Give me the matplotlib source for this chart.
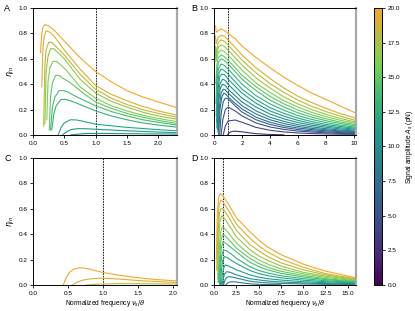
import numpy as np
import matplotlib
matplotlib.use('Agg')
import matplotlib.pyplot as plt
from matplotlib.colors import LinearSegmentedColormap, Normalize
from matplotlib.cm import ScalarMappable

plt.rcParams['font.family'] = ['Liberation Sans', 'DejaVu Sans']
plt.rcParams['mathtext.fontset'] = 'dejavusans'

# Panel A: amplitudes 20 -> 10 pN, (x, y) points
amps_a = [20, 19, 18, 17, 16, 15, 14, 13, 12, 11, 10]
x_a = [
    [0.12, 0.14, 0.16, 0.19, 0.25, 0.35, 0.5, 0.75, 1.0, 1.25, 1.5, 1.75, 2.0, 2.3],
    [0.14, 0.16, 0.18, 0.21, 0.27, 0.35, 0.5, 0.75, 1.0, 1.25, 1.5, 1.75, 2.0, 2.3],
    [0.17, 0.19, 0.21, 0.25, 0.3, 0.4, 0.5, 0.75, 1.0, 1.25, 1.5, 1.75, 2.0, 2.3],
    [0.19, 0.21, 0.24, 0.28, 0.33, 0.42, 0.5, 0.75, 1.0, 1.25, 1.5, 1.75, 2.0, 2.3],
    [0.22, 0.24, 0.27, 0.32, 0.37, 0.45, 0.55, 0.75, 1.0, 1.25, 1.5, 1.75, 2.0, 2.3],
    [0.26, 0.28, 0.31, 0.36, 0.41, 0.5, 0.6, 0.8, 1.0, 1.25, 1.5, 1.75, 2.0, 2.3],
    [0.28, 0.31, 0.35, 0.42, 0.48, 0.55, 0.7, 1.0, 1.25, 1.5, 1.75, 2.0, 2.3],
    [0.30, 0.33, 0.37, 0.45, 0.52, 0.6, 0.8, 1.0, 1.25, 1.5, 1.75, 2.0, 2.3],
    [0.40, 0.45, 0.5, 0.6, 0.7, 0.8, 1.0, 1.5, 2.0, 2.3],
    [0.47, 0.55, 0.62, 0.72, 0.85, 1.0, 1.5, 2.0, 2.3],
    [0.6, 0.8, 1.0, 1.5, 2.3],
]
y_a = [
    [0.65, 0.80, 0.85, 0.87, 0.86, 0.82, 0.74, 0.61, 0.50, 0.42, 0.35, 0.30, 0.26, 0.215],
    [0.38, 0.70, 0.78, 0.82, 0.81, 0.77, 0.67, 0.52, 0.39, 0.32, 0.27, 0.225, 0.19, 0.155],
    [0.07, 0.55, 0.67, 0.73, 0.73, 0.68, 0.63, 0.48, 0.36, 0.29, 0.24, 0.20, 0.17, 0.14],
    [0.09, 0.50, 0.62, 0.68, 0.68, 0.64, 0.60, 0.44, 0.33, 0.265, 0.22, 0.18, 0.15, 0.125],
    [0.12, 0.42, 0.53, 0.58, 0.58, 0.55, 0.50, 0.38, 0.29, 0.23, 0.19, 0.155, 0.13, 0.105],
    [0.04, 0.30, 0.41, 0.47, 0.47, 0.44, 0.41, 0.33, 0.26, 0.21, 0.17, 0.14, 0.115, 0.09],
    [0.04, 0.22, 0.30, 0.35, 0.35, 0.34, 0.30, 0.23, 0.185, 0.15, 0.12, 0.10, 0.078],
    [0.04, 0.16, 0.23, 0.28, 0.28, 0.27, 0.23, 0.19, 0.15, 0.12, 0.095, 0.078, 0.062],
    [0.0, 0.06, 0.095, 0.12, 0.118, 0.108, 0.085, 0.06, 0.042, 0.033],
    [0.0, 0.03, 0.044, 0.05, 0.049, 0.045, 0.033, 0.023, 0.018],
    [0.0, 0.01, 0.012, 0.01, 0.007],
]

# Panel B: amplitudes 20 -> 3 pN
amps_b = [20, 19, 18, 17, 16, 15, 14, 13, 12, 11, 10, 9, 8, 7, 6, 5, 4, 3]
tail_b = [1, 1.5, 2, 3, 4, 5, 6, 7, 8, 9, 10.2]
head_x_b = [
    [0.1, 0.14, 0.2, 0.3, 0.5, 0.7],
    [0.1, 0.14, 0.2, 0.3, 0.5, 0.7],
    [0.1, 0.14, 0.2, 0.3, 0.5, 0.7],
    [0.1, 0.14, 0.2, 0.3, 0.5, 0.7],
    [0.1, 0.13, 0.2, 0.3, 0.5, 0.7],
    [0.12, 0.2, 0.3, 0.5, 0.7],
    [0.13, 0.2, 0.3, 0.5, 0.7],
    [0.15, 0.22, 0.3, 0.5, 0.7],
    [0.17, 0.25, 0.35, 0.5, 0.7],
    [0.2, 0.28, 0.4, 0.55, 0.75],
    [0.22, 0.3, 0.4, 0.6, 0.8],
    [0.25, 0.33, 0.45, 0.6, 0.8],
    [0.28, 0.37, 0.5, 0.65, 0.8],
    [0.32, 0.42, 0.55, 0.7, 0.85],
    [0.4, 0.5, 0.65, 0.8],
    [0.5, 0.62, 0.8],
    [0.65, 0.8],
    [0.95, 1.1, 1.3],
]
head_y_b = [
    [0.86, 0.82, 0.81, 0.825, 0.835, 0.825],
    [0.78, 0.72, 0.74, 0.77, 0.785, 0.78],
    [0.70, 0.62, 0.68, 0.73, 0.75, 0.74],
    [0.66, 0.58, 0.64, 0.69, 0.71, 0.70],
    [0.69, 0.59, 0.61, 0.65, 0.67, 0.66],
    [0.40, 0.56, 0.61, 0.63, 0.62],
    [0.25, 0.50, 0.57, 0.60, 0.59],
    [0.15, 0.45, 0.52, 0.56, 0.55],
    [0.10, 0.40, 0.49, 0.52, 0.51],
    [0.06, 0.36, 0.46, 0.48, 0.475],
    [0.05, 0.30, 0.40, 0.44, 0.43],
    [0.04, 0.26, 0.37, 0.40, 0.39],
    [0.02, 0.22, 0.33, 0.36, 0.355],
    [0.0, 0.20, 0.30, 0.33, 0.32],
    [0.0, 0.17, 0.26, 0.29],
    [0.0, 0.12, 0.20],
    [0.0, 0.07],
    [0.0, 0.02, 0.028],
]
tail_y_b = [
    [0.80, 0.76, 0.70, 0.61, 0.53, 0.455, 0.39, 0.33, 0.28, 0.23, 0.17],
    [0.75, 0.69, 0.63, 0.53, 0.445, 0.37, 0.305, 0.255, 0.21, 0.17, 0.13],
    [0.71, 0.65, 0.59, 0.49, 0.405, 0.335, 0.275, 0.225, 0.185, 0.15, 0.112],
    [0.67, 0.61, 0.55, 0.45, 0.37, 0.30, 0.245, 0.20, 0.163, 0.132, 0.10],
    [0.63, 0.57, 0.51, 0.41, 0.335, 0.27, 0.22, 0.178, 0.145, 0.117, 0.09],
    [0.59, 0.53, 0.47, 0.38, 0.305, 0.245, 0.197, 0.158, 0.128, 0.103, 0.08],
    [0.56, 0.50, 0.44, 0.35, 0.275, 0.22, 0.175, 0.14, 0.113, 0.091, 0.07],
    [0.52, 0.46, 0.40, 0.31, 0.245, 0.195, 0.153, 0.122, 0.098, 0.078, 0.06],
    [0.48, 0.42, 0.36, 0.28, 0.215, 0.17, 0.133, 0.105, 0.084, 0.067, 0.052],
    [0.44, 0.385, 0.33, 0.25, 0.19, 0.148, 0.115, 0.09, 0.072, 0.057, 0.045],
    [0.40, 0.345, 0.29, 0.22, 0.165, 0.127, 0.098, 0.077, 0.061, 0.048, 0.038],
    [0.36, 0.31, 0.26, 0.19, 0.14, 0.107, 0.082, 0.064, 0.05, 0.039, 0.03],
    [0.33, 0.28, 0.23, 0.165, 0.12, 0.09, 0.068, 0.052, 0.041, 0.032, 0.025],
    [0.30, 0.25, 0.205, 0.14, 0.10, 0.073, 0.055, 0.042, 0.033, 0.026, 0.02],
    [0.285, 0.23, 0.18, 0.12, 0.083, 0.059, 0.043, 0.032, 0.025, 0.019, 0.015],
    [0.22, 0.19, 0.15, 0.095, 0.063, 0.044, 0.031, 0.023, 0.017, 0.013, 0.01],
    [0.11, 0.118, 0.10, 0.06, 0.037, 0.024, 0.016, 0.011, 0.008, 0.006, 0.005],
    [],
]
tail_b3_x = [1.5, 2, 2.5, 3, 4, 5]
tail_b3_y = [0.03, 0.025, 0.017, 0.01, 0.004, 0.001]

# Panel C: only the three largest amplitudes give any output
amps_c = [20, 19, 18]
x_c = [
    [0.43, 0.47, 0.52, 0.58, 0.65, 0.72, 0.8, 1.0, 1.25, 1.5, 1.75, 2.05],
    [0.56, 0.62, 0.7, 0.8, 0.95, 1.1, 1.3, 1.5, 1.75, 2.05],
    [0.75, 0.9, 1.2, 1.6, 2.05],
]
y_c = [
    [0.0, 0.055, 0.1, 0.125, 0.135, 0.134, 0.125, 0.098, 0.075, 0.057, 0.043, 0.032],
    [0.0, 0.02, 0.037, 0.048, 0.053, 0.051, 0.044, 0.035, 0.027, 0.019],
    [0.0, 0.006, 0.011, 0.01, 0.007],
]

# Panel D: amplitudes 20 -> 8 pN
amps_d = [20, 19, 18, 17, 16, 15, 14, 13, 12, 11, 10, 9, 8]
x_d = [
    [0.25, 0.35, 0.5, 0.7, 1.0, 1.5, 2.5, 4, 5, 6, 7.5, 10, 12.5, 16],
    [0.3, 0.4, 0.55, 0.75, 1.0, 1.5, 2.5, 4, 5, 6, 7.5, 10, 12.5, 16],
    [0.33, 0.45, 0.6, 0.8, 1.0, 1.5, 2.5, 4, 5, 6, 7.5, 10, 12.5, 16],
    [0.4, 0.5, 0.65, 0.85, 1.0, 1.5, 2.5, 4, 5, 6, 7.5, 10, 12.5, 16],
    [0.45, 0.55, 0.7, 0.9, 1.1, 1.5, 2.5, 4, 5, 6, 7.5, 10, 12.5, 16],
    [0.5, 0.6, 0.75, 0.95, 1.2, 1.5, 2.5, 4, 5, 6, 7.5, 10, 12.5, 16],
    [0.55, 0.65, 0.8, 1.0, 1.3, 2.0, 2.5, 4, 5, 6, 7.5, 10, 12.5, 16],
    [0.6, 0.72, 0.85, 1.05, 1.4, 2.0, 2.5, 4, 5, 6, 7.5, 10, 12.5, 16],
    [0.7, 0.8, 0.95, 1.15, 1.5, 2.0, 2.5, 4, 5, 6, 7.5, 10, 12.5, 16],
    [0.8, 0.9, 1.05, 1.25, 1.6, 2.5, 4, 5, 6, 7.5, 10, 12.5, 16],
    [0.9, 1.0, 1.15, 1.4, 1.8, 2.5, 4, 5, 6, 7.5, 10, 12.5, 16],
    [1.05, 1.2, 1.35, 1.6, 2.0, 2.5, 4, 5, 6, 7.5, 10, 12.5, 16],
    [1.3, 1.5, 1.7, 2.0, 2.5, 3.0, 4, 5, 7.5],
]
y_d = [
    [0.21, 0.55, 0.69, 0.72, 0.70, 0.65, 0.53, 0.42, 0.355, 0.30, 0.24, 0.165, 0.11, 0.055],
    [0.12, 0.45, 0.63, 0.67, 0.655, 0.60, 0.48, 0.37, 0.31, 0.26, 0.205, 0.14, 0.09, 0.048],
    [0.12, 0.42, 0.57, 0.605, 0.60, 0.55, 0.43, 0.32, 0.27, 0.225, 0.175, 0.12, 0.08, 0.043],
    [0.05, 0.35, 0.50, 0.545, 0.54, 0.49, 0.38, 0.28, 0.23, 0.195, 0.15, 0.10, 0.07, 0.038],
    [0.02, 0.25, 0.41, 0.455, 0.45, 0.42, 0.33, 0.24, 0.20, 0.165, 0.127, 0.088, 0.06, 0.033],
    [0.02, 0.20, 0.35, 0.395, 0.39, 0.37, 0.29, 0.21, 0.17, 0.14, 0.108, 0.075, 0.05, 0.028],
    [0.02, 0.16, 0.29, 0.34, 0.33, 0.29, 0.26, 0.18, 0.145, 0.12, 0.092, 0.063, 0.043, 0.024],
    [0.0, 0.13, 0.23, 0.276, 0.27, 0.24, 0.21, 0.145, 0.115, 0.095, 0.073, 0.05, 0.034, 0.019],
    [0.0, 0.10, 0.19, 0.224, 0.215, 0.19, 0.17, 0.115, 0.09, 0.074, 0.057, 0.038, 0.026, 0.015],
    [0.0, 0.07, 0.13, 0.158, 0.15, 0.12, 0.08, 0.062, 0.05, 0.039, 0.026, 0.018, 0.01],
    [0.0, 0.04, 0.085, 0.105, 0.10, 0.08, 0.05, 0.04, 0.032, 0.024, 0.016, 0.011, 0.006],
    [0.0, 0.035, 0.055, 0.066, 0.063, 0.055, 0.03, 0.022, 0.017, 0.012, 0.008, 0.005, 0.003],
    [0.0, 0.015, 0.022, 0.026, 0.024, 0.018, 0.01, 0.005, 0.002],
]

# colour scale: viridis up to yellow-green, then on to orange at 20 pN
vir = plt.get_cmap('viridis')
pos = list(np.linspace(0, 0.8, 9)) + [1.0]
cols = [vir(v) for v in np.linspace(0, 0.8, 9)] + ['#f6a628']
cmap = LinearSegmentedColormap.from_list('amp', list(zip(pos, cols)))
norm = Normalize(0, 20)

fig = plt.figure(figsize=(4.15, 3.11), dpi=100)
ax_a = fig.add_axes([0.0795, 0.566, 0.347, 0.408])
ax_b = fig.add_axes([0.516, 0.566, 0.343, 0.408])
ax_c = fig.add_axes([0.0795, 0.0836, 0.347, 0.408])
ax_d = fig.add_axes([0.516, 0.0836, 0.343, 0.408])
cax = fig.add_axes([0.902, 0.0836, 0.018, 0.891])

lw = 0.8
for amp, xs, ys in zip(amps_a, x_a, y_a):
    ax_a.plot(xs, ys, color=cmap(norm(amp)), lw=lw)
for i, amp in enumerate(amps_b):
    if amp == 3:
        xs = head_x_b[i] + tail_b3_x
        ys = head_y_b[i] + tail_b3_y
    else:
        xs = head_x_b[i] + tail_b
        ys = head_y_b[i] + tail_y_b[i]
    ax_b.plot(xs, ys, color=cmap(norm(amp)), lw=lw)
for amp, xs, ys in zip(amps_c, x_c, y_c):
    ax_c.plot(xs, ys, color=cmap(norm(amp)), lw=lw)
for amp, xs, ys in zip(amps_d, x_d, y_d):
    ax_d.plot(xs, ys, color=cmap(norm(amp)), lw=lw)

setup = [
    (ax_a, 'A', 2.3, np.arange(0, 2.01, 0.5), '{:.1f}'),
    (ax_b, 'B', 10.2, np.arange(0, 10.1, 2), '{:.0f}'),
    (ax_c, 'C', 2.05, np.arange(0, 2.01, 0.5), '{:.1f}'),
    (ax_d, 'D', 16, np.arange(0, 15.1, 2.5), '{:.1f}'),
]
for ax, letter, xmax, xt, fmt in setup:
    ax.axvline(1.0, color='black', lw=0.6, ls=(0, (2, 1.2)), zorder=0.5)
    ax.set_xlim(0, xmax)
    ax.set_ylim(0, 1)
    ax.set_xticks(xt)
    ax.set_xticklabels([fmt.format(v) for v in xt])
    ax.set_yticks(np.arange(0, 1.01, 0.2))
    ax.set_yticklabels([f'{v:.1f}' for v in np.arange(0, 1.01, 0.2)])
    ax.tick_params(labelsize=4.6, length=2.5, width=0.6, pad=1.5)
    for s in ['left', 'top', 'bottom']:
        ax.spines[s].set_linewidth(0.7)
    ax.spines['right'].set_color('#a8a8a8')
    ax.spines['right'].set_linewidth(1.6)
    ax.text(-0.2 if letter in 'AC' else -0.16, 1.0, letter, transform=ax.transAxes,
            fontsize=6.5, va='center', ha='left')

for ax in (ax_a, ax_c):
    ax.set_ylabel(r'$\eta_{in}$', fontsize=5.5, labelpad=2)
for ax in (ax_c, ax_d):
    ax.set_xlabel(r'Normalized frequency $\nu_s/\vartheta$', fontsize=4.8, labelpad=2)

cb = fig.colorbar(ScalarMappable(norm=norm, cmap=cmap), cax=cax)
cb.set_ticks(np.arange(0, 20.1, 2.5))
cb.set_ticklabels([f'{v:.1f}' for v in np.arange(0, 20.1, 2.5)])
cb.ax.tick_params(labelsize=4.6, length=2.5, width=0.6, pad=1.5)
cb.outline.set_linewidth(0.7)
cb.set_label(r'Signal amplitude $A_s$ (pN)', fontsize=4.8, labelpad=3)

fig.savefig('out.png', dpi=100)
